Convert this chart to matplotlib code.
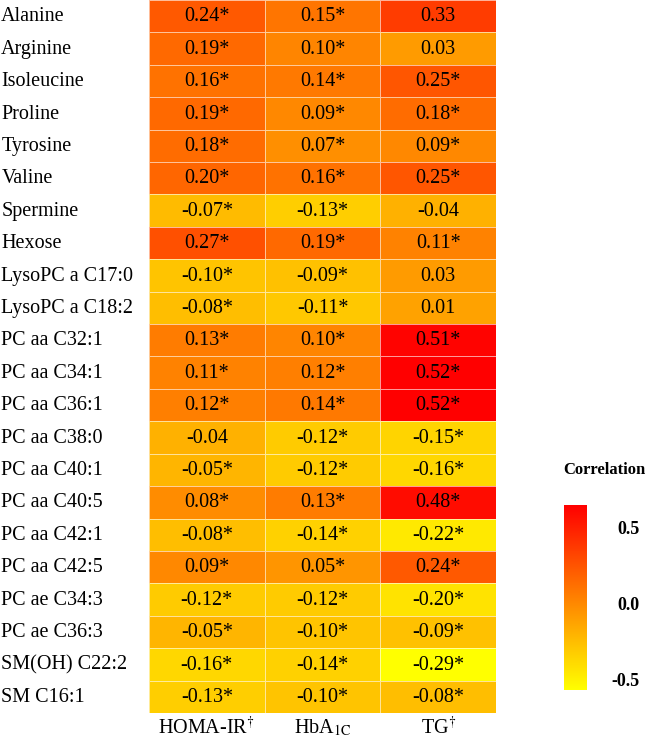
import matplotlib
matplotlib.use('Agg')
import matplotlib.pyplot as plt
import numpy as np
from matplotlib.colors import LinearSegmentedColormap, Normalize
import matplotlib.cm as cm
import matplotlib.transforms as mtransforms

plt.rcParams['font.family'] = ['Liberation Serif', 'DejaVu Serif']
plt.rcParams['mathtext.fontset'] = 'stix'

# data
metabolites = ['Alanine', 'Arginine', 'Isoleucine', 'Proline', 'Tyrosine', 'Valine',
               'Spermine', 'Hexose', 'LysoPC a C17:0', 'LysoPC a C18:2',
               'PC aa C32:1', 'PC aa C34:1', 'PC aa C36:1', 'PC aa C38:0',
               'PC aa C40:1', 'PC aa C40:5', 'PC aa C42:1', 'PC aa C42:5',
               'PC ae C34:3', 'PC ae C36:3', 'SM(OH) C22:2', 'SM C16:1']
outcomes = ['HOMA-IR$^{\\dagger}$', 'HbA$_{\\mathrm{1C}}$', 'TG$^{\\dagger}$']

homa = [0.24, 0.19, 0.16, 0.19, 0.18, 0.20, -0.07, 0.27, -0.10, -0.08, 0.13,
        0.11, 0.12, -0.04, -0.05, 0.08, -0.08, 0.09, -0.12, -0.05, -0.16, -0.13]
hba1c = [0.15, 0.10, 0.14, 0.09, 0.07, 0.16, -0.13, 0.19, -0.09, -0.11, 0.10,
         0.12, 0.14, -0.12, -0.12, 0.13, -0.14, 0.05, -0.12, -0.10, -0.14, -0.10]
tg = [0.33, 0.03, 0.25, 0.18, 0.09, 0.25, -0.04, 0.11, 0.03, 0.01, 0.51,
      0.52, 0.52, -0.15, -0.16, 0.48, -0.22, 0.24, -0.20, -0.09, -0.29, -0.08]

homa_sig = [1]*13 + [0] + [1]*8
hba1c_sig = [1]*22
tg_sig = [0, 0, 1, 1, 1, 1, 0, 1, 0, 0] + [1]*12

values = np.array([homa, hba1c, tg]).T
sig = np.array([homa_sig, hba1c_sig, tg_sig]).T

vmin, vmax = -0.29, 0.52
zero_pos = (0 - vmin) / (vmax - vmin)
cmap = LinearSegmentedColormap.from_list(
    'ylor', [(0, '#FFFF00'), (zero_pos, '#FFA500'), (1, '#FF0000')])

fig = plt.figure(figsize=(6.46, 7.39), dpi=100)
ax = fig.add_axes([0.2307, 0.0352, 0.5372, 0.9648])

ax.pcolormesh(values, cmap=cmap, vmin=vmin, vmax=vmax,
              edgecolor=(1, 1, 1, 0.6), linewidth=0.6)
ax.set_xlim(0, 3)
ax.set_ylim(len(metabolites), 0)
ax.set_xticks([])
ax.set_yticks([])
for s in ax.spines.values():
    s.set_visible(False)

for i in range(len(metabolites)):
    for j in range(3):
        txt = '%.2f' % values[i, j] + ('*' if sig[i, j] else '')
        ax.text(j + 0.5, i + 0.52, txt, ha='center', va='center', fontsize=14.5)

# row labels, left aligned at figure edge
trans = mtransforms.blended_transform_factory(fig.transFigure, ax.transData)
for i, name in enumerate(metabolites):
    ax.text(0.002, i + 0.52, name, transform=trans, ha='left', va='center',
            fontsize=14.5)

# column labels
for j, name in enumerate(outcomes):
    ax.text(j + 0.5, len(metabolites) + 0.45, name, ha='center', va='center',
            fontsize=14.5, clip_on=False)

# colorbar
cax = fig.add_axes([0.873, 0.0663, 0.0356, 0.25])
sm = cm.ScalarMappable(norm=Normalize(-0.57, 0.65), cmap=cmap)
cb = fig.colorbar(sm, cax=cax)
cb.outline.set_visible(False)
cb.set_ticks([0.5, 0.0, -0.5])
cb.set_ticklabels(['0.5', '0.0', '-0.5'])
cax.tick_params(length=0, pad=38)
for lab in cax.get_yticklabels():
    lab.set_ha('right')
    lab.set_fontweight('bold')
    lab.set_fontsize(13)
fig.text(0.935, 0.364, 'Correlation', ha='center', va='center',
         fontsize=12, fontweight='bold')

fig.savefig('out.png', dpi=100)
